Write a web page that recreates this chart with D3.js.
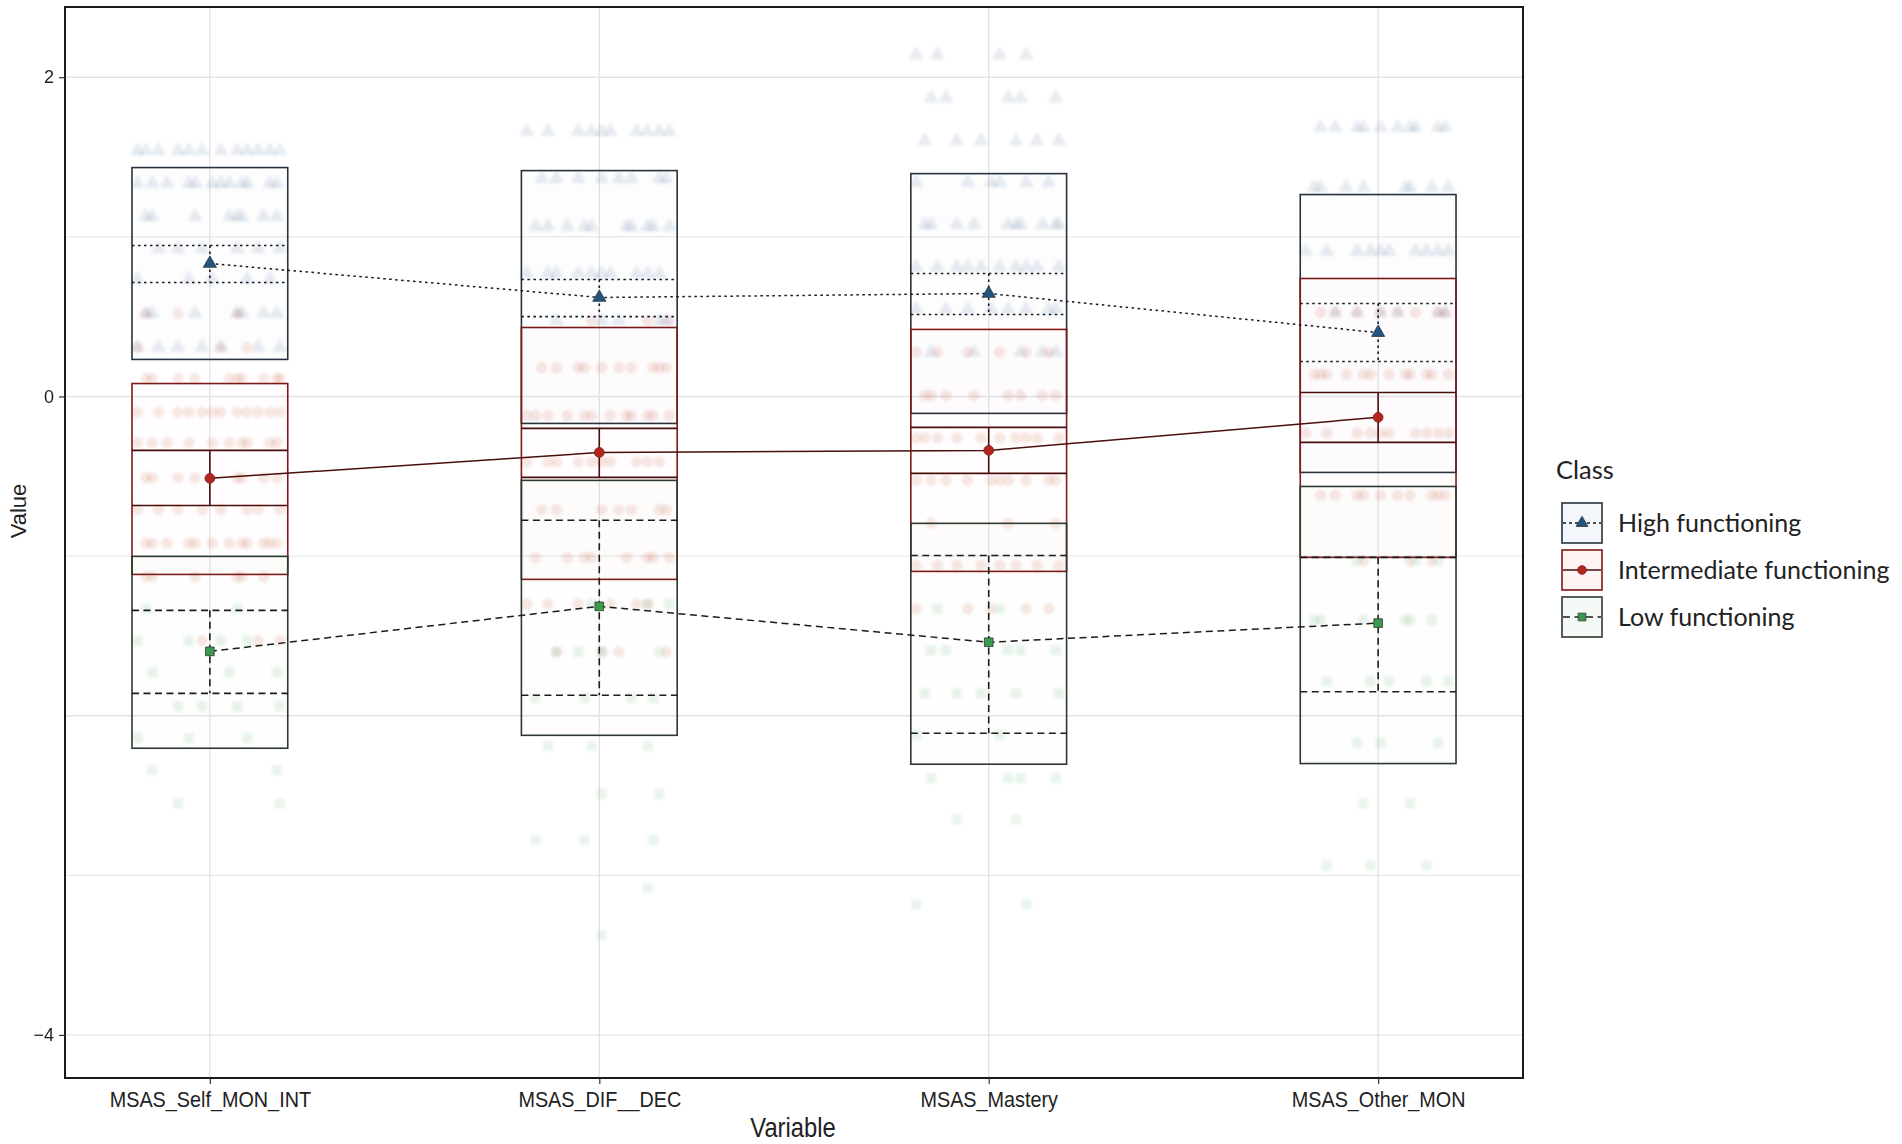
<!DOCTYPE html>
<html>
<head>
<meta charset="utf-8">
<script src="https://cdn.jsdelivr.net/npm/d3@7"></script>
<style>
  body { margin: 0; background: #fff; }
  svg { display: block; }
</style>
</head>
<body>
<div id="chart"></div>
<script>
// Class profiles per MSAS variable: mean, crossbar (box) and error bar per class

const variables = ['MSAS_Self_MON_INT', 'MSAS_DIF__DEC', 'MSAS_Mastery', 'MSAS_Other_MON'];
const classes = ['High functioning', 'Intermediate functioning', 'Low functioning'];
const yTicks = [2, 0, -4];

const highMean = [0.833, 0.62, 0.645, 0.40];
const highBoxLo = [0.232, -0.169, -0.106, -0.476];
const highBoxHi = [1.434, 1.415, 1.396, 1.265];
const highCiLo = [0.714, 0.50, 0.513, 0.219];
const highCiHi = [0.946, 0.733, 0.770, 0.582];

const interMean = [-0.513, -0.351, -0.338, -0.131];
const interBoxLo = [-1.115, -1.146, -1.096, -1.008];
const interBoxHi = [0.081, 0.432, 0.42, 0.739];
const interCiLo = [-0.683, -0.507, -0.482, -0.288];
const interCiHi = [-0.338, -0.20, -0.194, 0.025];

const lowMean = [-1.597, -1.315, -1.54, -1.42];
const lowBoxLo = [-2.204, -2.123, -2.304, -2.30];
const lowBoxHi = [-1.002, -0.526, -0.795, -0.564];
const lowCiLo = [-1.860, -1.872, -2.11, -1.85];
const lowCiHi = [-1.340, -0.776, -0.996, -1.008];

// raw score rows behind the summaries: [value, number of cases] per variable
const highRows = [
    [[1.54, 12], [1.334, 12], [1.127, 8], [0.927, 6], [0.733, 5], [0.52, 7], [0.307, 7]],
    [[1.66, 10], [1.365, 8], [1.065, 10], [0.77, 10], [0.475, 5]],
    [[2.14, 4], [1.87, 5], [1.60, 6], [1.34, 6], [1.077, 10], [0.81, 10], [0.545, 8], [0.277, 5]],
    [[1.685, 10], [1.31, 8], [0.91, 10], [0.526, 6]]
];
const interRows = [
    [[0.52, 3], [0.307, 3], [0.113, 10], [-0.1, 12], [-0.29, 10], [-0.51, 8], [-0.71, 8], [-0.92, 12], [-1.13, 6], [-1.53, 3]],
    [[0.475, 3], [0.18, 10], [-0.12, 12], [-0.41, 10], [-0.71, 7], [-1.01, 8], [-1.30, 6], [-1.60, 4]],
    [[0.277, 6], [0.006, 8], [-0.26, 10], [-0.526, 10], [-0.795, 3], [-1.06, 8], [-1.33, 5]],
    [[0.526, 8], [0.138, 12], [-0.23, 10], [-0.62, 10], [-1.03, 3]]
];
const lowRows = [
    [[-1.33, 2], [-1.53, 4], [-1.73, 3], [-1.94, 4], [-2.14, 3], [-2.34, 2], [-2.55, 2]],
    [[-1.30, 3], [-1.60, 4], [-1.89, 4], [-2.19, 3], [-2.49, 2], [-2.78, 3], [-3.08, 1], [-3.375, 1]],
    [[-1.33, 2], [-1.59, 5], [-1.86, 5], [-2.12, 2], [-2.39, 4], [-2.65, 2], [-3.18, 2]],
    [[-1.03, 3], [-1.40, 6], [-1.785, 5], [-2.17, 3], [-2.55, 2], [-2.94, 3]]
];

// fixed horizontal spread of the raw points, as a share of the box half width
const jitterOffsets = [-0.82, 0.35, -0.41, 0.9, -0.1, 0.62, -0.66, 0.14, -0.93, 0.48, -0.27, 0.77, 0.03, -0.55, 0.25, 0.86, -0.74, 0.41, -0.19, 0.69];

const classStyle = [
    { key: 'high', mean: highMean, boxLo: highBoxLo, boxHi: highBoxHi, ciLo: highCiLo, ciHi: highCiHi, rows: highRows,
      point: '#24557f', edge: '#26323d', bar: '#111a22', fill: '#3b7bb3', dash: '2.5,3.5', symbol: d3.symbolTriangle },
    { key: 'inter', mean: interMean, boxLo: interBoxLo, boxHi: interBoxHi, ciLo: interCiLo, ciHi: interCiHi, rows: interRows,
      point: '#b3261e', edge: '#7d1a17', bar: '#4a0e0c', fill: '#d9403a', dash: null, symbol: d3.symbolCircle },
    { key: 'low', mean: lowMean, boxLo: lowBoxLo, boxHi: lowBoxHi, ciLo: lowCiLo, ciHi: lowCiHi, rows: lowRows,
      point: '#3d9a4c', edge: '#2c3a2e', bar: '#1c1c1c', fill: '#5aa866', dash: '7,4.5', symbol: d3.symbolSquare }
];

const W = 1902, H = 1144;
const panel = { left: 65, top: 7, right: 1523, bottom: 1078 };

const svg = d3.select('#chart').append('svg')
    .attr('width', W)
    .attr('height', H)
    .style('font-family', '"Liberation Sans", Arial, sans-serif');

svg.append('defs').append('filter')
    .attr('id', 'soft')
    .append('feGaussianBlur')
    .attr('stdDeviation', 1.6);

const x = d3.scalePoint()
    .domain(variables)
    .range([panel.left, panel.right])
    .padding(0.372);

const y = d3.scaleLinear()
    .domain([-4.27, 2.44])
    .range([panel.bottom, panel.top]);

const half = x.step() * 0.2;

// grid (major + minor like theme_bw)
const grid = svg.append('g');
grid.selectAll('.hgrid')
    .data(d3.range(-4, 3, 1))
    .enter()
    .append('line')
    .attr('x1', panel.left).attr('x2', panel.right)
    .attr('y1', d => y(d)).attr('y2', d => y(d))
    .attr('stroke', '#e4e4e4')
    .attr('stroke-width', d => d % 2 === 0 ? 1.4 : 1);
grid.selectAll('.vgrid')
    .data(variables)
    .enter()
    .append('line')
    .attr('x1', d => x(d)).attr('x2', d => x(d))
    .attr('y1', panel.top).attr('y2', panel.bottom)
    .attr('stroke', '#e4e4e4')
    .attr('stroke-width', 1.4);

// raw points
const raw = svg.append('g').attr('filter', 'url(#soft)');
classStyle.forEach(cs => {
    variables.forEach((v, vi) => {
        cs.rows[vi].forEach((row, ri) => {
            const [val, n] = row;
            for (let k = 0; k < n; k++) {
                const off = jitterOffsets[(ri * 7 + vi * 3 + k) % jitterOffsets.length];
                raw.append('path')
                    .attr('d', d3.symbol().type(cs.symbol).size(75)())
                    .attr('transform', `translate(${x(v) + off * half},${y(val)})`)
                    .attr('fill', cs.point)
                    .attr('fill-opacity', 0.11)
                    .attr('stroke', cs.point)
                    .attr('stroke-opacity', 0.08);
            }
        });
    });
});

// crossbars (boxes)
classStyle.forEach(cs => {
    svg.append('g').selectAll('rect')
        .data(variables)
        .enter()
        .append('rect')
        .attr('x', d => x(d) - half)
        .attr('width', half * 2)
        .attr('y', (d, i) => y(cs.boxHi[i]))
        .attr('height', (d, i) => y(cs.boxLo[i]) - y(cs.boxHi[i]))
        .attr('fill', cs.fill)
        .attr('fill-opacity', 0.012)
        .attr('stroke', cs.edge)
        .attr('stroke-width', 1.6);
});

// error bars
classStyle.forEach(cs => {
    const g = svg.append('g')
        .attr('stroke', cs.bar)
        .attr('stroke-width', 1.6)
        .attr('fill', 'none')
        .attr('stroke-dasharray', cs.dash);
    variables.forEach((v, i) => {
        const cx = x(v);
        g.append('path')
            .attr('d', `M${cx - half},${y(cs.ciHi[i])}H${cx + half}M${cx},${y(cs.ciHi[i])}V${y(cs.ciLo[i])}M${cx - half},${y(cs.ciLo[i])}H${cx + half}`);
    });
});

// mean profile lines
const line = d3.line()
    .x(d => x(d[0]))
    .y(d => y(d[1]));
classStyle.forEach(cs => {
    svg.append('path')
        .datum(variables.map((v, i) => [v, cs.mean[i]]))
        .attr('d', line)
        .attr('fill', 'none')
        .attr('stroke', cs.bar)
        .attr('stroke-width', 1.5)
        .attr('stroke-dasharray', cs.dash);
});

// mean points
classStyle.forEach(cs => {
    svg.append('g').selectAll('path')
        .data(variables)
        .enter()
        .append('path')
        .attr('d', d3.symbol().type(cs.symbol).size(75)())
        .attr('transform', (d, i) => `translate(${x(d)},${y(cs.mean[i])})`)
        .attr('fill', cs.point)
        .attr('stroke', cs.edge)
        .attr('stroke-width', 0.8);
});

// panel border
svg.append('rect')
    .attr('x', panel.left)
    .attr('y', panel.top)
    .attr('width', panel.right - panel.left)
    .attr('height', panel.bottom - panel.top)
    .attr('fill', 'none')
    .attr('stroke', '#1a1a1a')
    .attr('stroke-width', 2);

// axes
const yAxis = svg.append('g')
    .attr('transform', `translate(${panel.left},0)`)
    .call(d3.axisLeft(y).tickValues(yTicks).tickFormat(d3.format('d')).tickSize(6).tickPadding(5));
yAxis.select('.domain').remove();
yAxis.selectAll('line').attr('stroke', '#333').attr('stroke-width', 1.2);
yAxis.selectAll('text')
    .style('font-size', '18px')
    .style('font-family', '"Liberation Sans", Arial, sans-serif')
    .attr('fill', '#222');

const xAxis = svg.append('g')
    .attr('transform', `translate(0,${panel.bottom})`)
    .call(d3.axisBottom(x).tickSize(6).tickPadding(7));
xAxis.select('.domain').remove();
xAxis.selectAll('line').attr('stroke', '#333').attr('stroke-width', 1.2);
xAxis.selectAll('text')
    .style('font-size', '22.5px')
    .style('font-family', '"Liberation Sans", Arial, sans-serif')
    .attr('fill', '#222')
    .attr('transform', 'scale(0.88,1)');

svg.append('text')
    .attr('transform', `translate(${W / 2 - 158},1137) scale(0.88,1)`)
    .attr('text-anchor', 'middle')
    .style('font-size', '27px')
    .attr('fill', '#222')
    .text('Variable');

svg.append('text')
    .attr('transform', 'translate(26,511) rotate(-90)')
    .attr('text-anchor', 'middle')
    .style('font-size', '22px')
    .attr('fill', '#222')
    .text('Value');

// legend
const legend = svg.append('g')
    .style('font-family', 'Lato, "Open Sans", sans-serif');

legend.append('text')
    .attr('x', 1556)
    .attr('y', 479)
    .style('font-size', '25.5px')
    .attr('fill', '#222')
    .text('Class');

const keys = legend.selectAll('.key')
    .data(classStyle)
    .enter()
    .append('g')
    .attr('transform', (d, i) => `translate(1562,${503 + i * 47})`);

keys.append('rect')
    .attr('width', 40)
    .attr('height', 40)
    .attr('fill', d => d.fill)
    .attr('fill-opacity', 0.06)
    .attr('stroke', d => d.edge)
    .attr('stroke-width', 1.6);

keys.append('line')
    .attr('x1', 1).attr('x2', 39)
    .attr('y1', 20).attr('y2', 20)
    .attr('stroke', d => d.bar)
    .attr('stroke-width', 1.4)
    .attr('stroke-dasharray', d => d.key === 'high' ? '3,3' : d.dash);

keys.append('path')
    .attr('d', d => d3.symbol().type(d.symbol).size(60)())
    .attr('transform', 'translate(20,20)')
    .attr('fill', d => d.point)
    .attr('stroke', d => d.edge)
    .attr('stroke-width', 0.8);

keys.append('text')
    .attr('x', 56)
    .attr('y', 20)
    .attr('dy', '0.35em')
    .style('font-size', '25px')
    .attr('fill', '#222')
    .text((d, i) => classes[i]);
</script>
</body>
</html>
